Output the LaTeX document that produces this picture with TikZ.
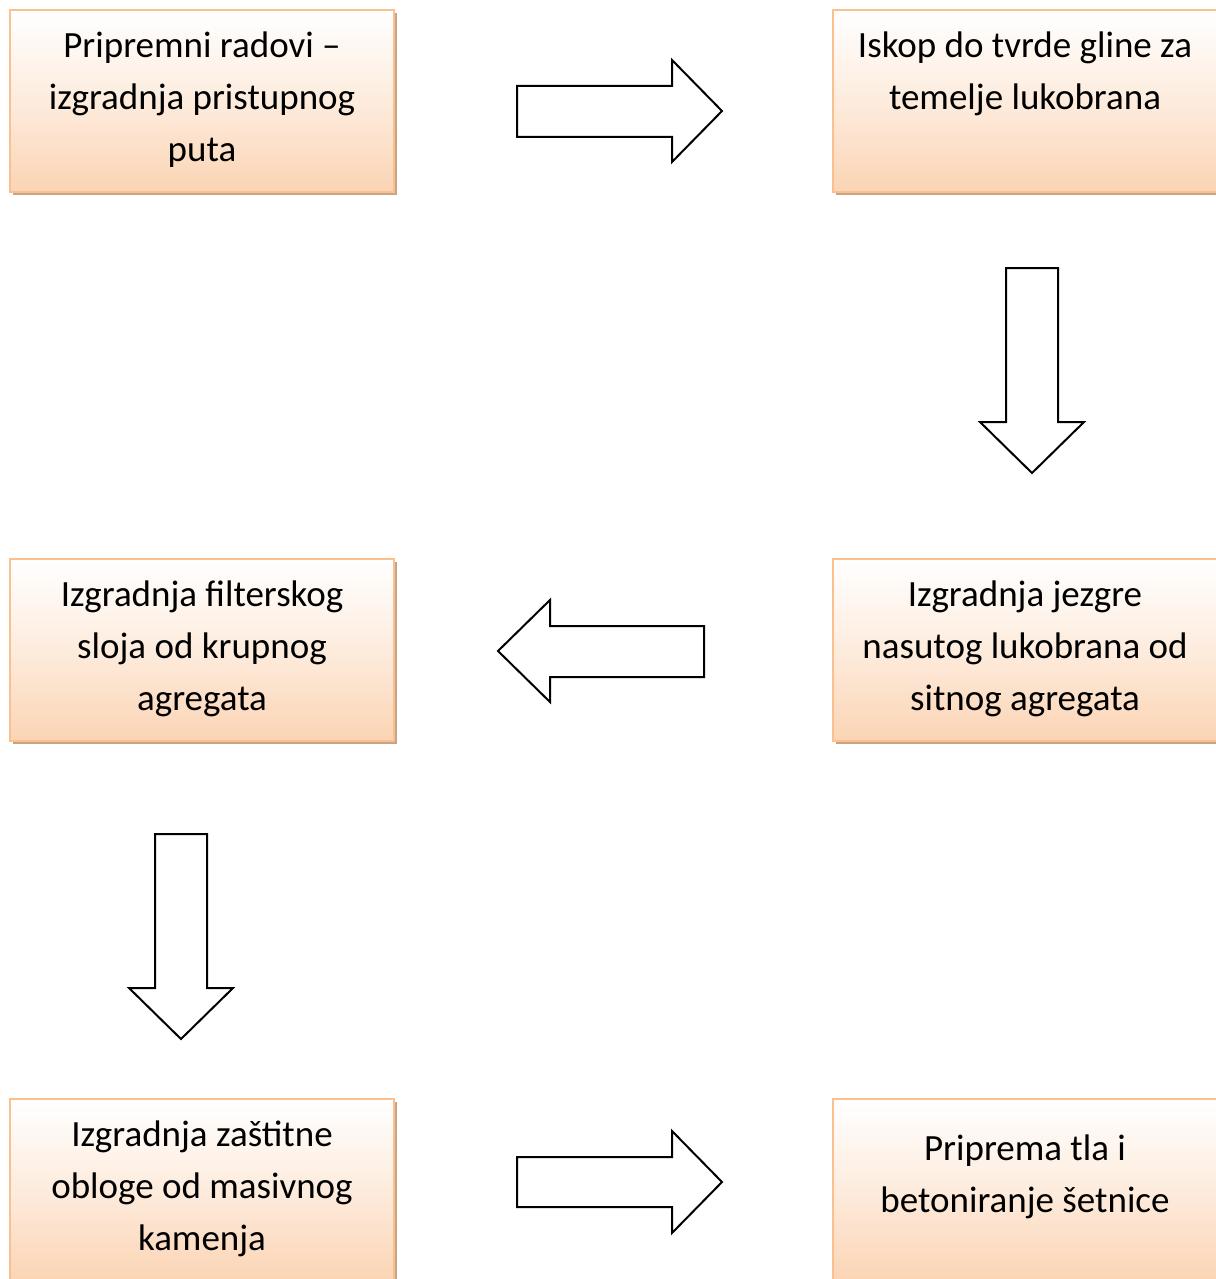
\documentclass[tikz,border=0pt]{standalone}
\usepackage{fontspec}
\setmainfont{Carlito}
\usetikzlibrary{positioning,shadows}

\definecolor{boxline}{HTML}{FAC090}
\definecolor{boxfill}{HTML}{FBD4B4}
\definecolor{boxshade}{HTML}{C8A484}

\tikzset{
	stepbox/.style={rectangle, draw=boxline, line width=2pt, minimum width=384pt, minimum height=182pt, inner sep=0pt,
		top color=white, bottom color=boxfill, middle color=boxfill!45,
		drop shadow={shadow xshift=3pt, shadow yshift=-3pt, fill=boxshade, opacity=1}},
	steptext/.style={align=center, inner sep=0pt, anchor=north, font=\fontsize{37}{52}\selectfont},
	blockarrow/.style={draw=black, line width=2pt, fill=white, line join=miter}
}

\begin{document}
\begin{tikzpicture}[x=1pt,y=-1pt]
		\useasboundingbox (0,0) rectangle (1215,1279);

		% boxes
		\node[stepbox] (b1) at (202,101) {};
		\node[stepbox] (b2) at (1025,101) {};
		\node[stepbox] (b3) at (1025,650) {};
		\node[stepbox] (b4) at (202,650) {};
		\node[stepbox] (b5) at (202,1190) {};
		\node[stepbox] (b6) at (1025,1190) {};

		\node[steptext, below=23pt of b1.north] (t1) {Pripremni radovi --\\izgradnja pristupnog\\puta};
		\node[steptext, below=23pt of b2.north] (t2) {Iskop do tvrde gline za\\temelje lukobrana};
		\node[steptext, below=23pt of b3.north] (t3) {Izgradnja jezgre\\nasutog lukobrana od\\sitnog agregata};
		\node[steptext, below=23pt of b4.north] (t4) {Izgradnja filterskog\\sloja od krupnog\\agregata};
		\node[steptext, below=23pt of b5.north] (t5) {Izgradnja zaštitne\\obloge od masivnog\\kamenja};
		\node[steptext, below=37pt of b6.north] (t6) {Priprema tla i\\betoniranje šetnice};

		% arrows
		\draw[blockarrow] (517,86) -- (672,86) -- (672,60) -- (722,111) -- (672,162) -- (672,137) -- (517,137) -- cycle;
		\draw[blockarrow] (1006,268) -- (1058,268) -- (1058,422) -- (1084,422) -- (1032,473) -- (980,422) -- (1006,422) -- cycle;
		\draw[blockarrow] (704,626) -- (550,626) -- (550,600) -- (498,651) -- (550,702) -- (550,677) -- (704,677) -- cycle;
		\draw[blockarrow] (155,834) -- (207,834) -- (207,988) -- (233,988) -- (181,1039) -- (129,988) -- (155,988) -- cycle;
		\draw[blockarrow] (517,1157) -- (672,1157) -- (672,1131) -- (722,1182) -- (672,1233) -- (672,1207) -- (517,1207) -- cycle;
\end{tikzpicture}
\end{document}
